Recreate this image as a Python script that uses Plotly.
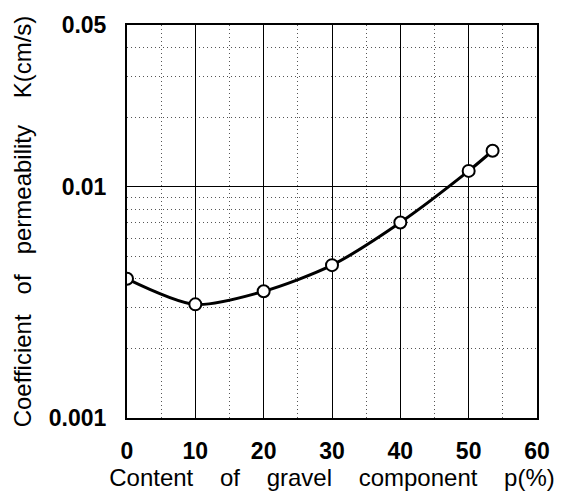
import plotly.graph_objects as go

# Data
gravel_content = [0, 10, 20, 30, 40, 50, 53.5]          # p (%)
permeability = [0.0040, 0.0031, 0.00353, 0.00458, 0.0070, 0.0117, 0.0143]  # K (cm/s)

x_tick_vals = [0, 10, 20, 30, 40, 50, 60]
y_tick_vals = [0.001, 0.01, 0.05]
y_tick_text = ["0.001", "0.01", "0.05"]
y_minor_vals = [0.002, 0.003, 0.004, 0.005, 0.006, 0.007, 0.008, 0.009, 0.02, 0.03, 0.04]
x_minor_vals = [5, 15, 25, 35, 45, 55]

NB = "\u00a0"
x_title = (NB * 4).join(["Content", "of", "gravel", "component", "p(%)"])
y_title = "Coefficient" + NB * 3 + "of" + NB * 3 + "permeability" + NB * 4 + "K(cm/s)"

FONT = "Liberation Sans, Arial, Helvetica, sans-serif"

fig = go.Figure()
fig.add_trace(go.Scatter(
    x=gravel_content, y=permeability,
    mode="lines+markers",
    line=dict(color="black", width=3, shape="spline", smoothing=0.8),
    marker=dict(symbol="circle", size=12, color="white",
                line=dict(color="black", width=2)),
    showlegend=False,
))

fig.update_layout(
    width=564, height=501,
    margin=dict(l=127, r=27, t=19, b=83),
    paper_bgcolor="white", plot_bgcolor="white",
    font=dict(family=FONT, color="black"),
)

fig.update_xaxes(
    range=[0, 60],
    tickvals=x_tick_vals,
    tickfont=dict(size=23, weight="bold", family=FONT, color="black"),
    ticks="",
    ticklabelstandoff=11,
    showline=True, linecolor="black", linewidth=2, mirror=True,
    showgrid=True, gridcolor="black", gridwidth=1,
    minor=dict(tickvals=x_minor_vals, showgrid=True, gridcolor="#555",
               griddash="1px,3px", gridwidth=1),
    zeroline=False,
    title=dict(text=x_title, font=dict(size=24, family=FONT, color="black"),
               standoff=3),
)

fig.update_yaxes(
    type="log",
    range=[-3, -1.30103],
    tickvals=y_tick_vals, ticktext=y_tick_text,
    tickfont=dict(size=23, weight="bold", family=FONT, color="black"),
    ticks="",
    ticklabelstandoff=14,
    showline=True, linecolor="black", linewidth=2, mirror=True,
    showgrid=True, gridcolor="black", gridwidth=1,
    minor=dict(tickvals=y_minor_vals, showgrid=True, gridcolor="#555",
               griddash="1px,3px", gridwidth=1),
    zeroline=False,
    title=dict(text=y_title, font=dict(size=24, family=FONT, color="black"),
               standoff=10),
)

fig.write_html("out.html")
